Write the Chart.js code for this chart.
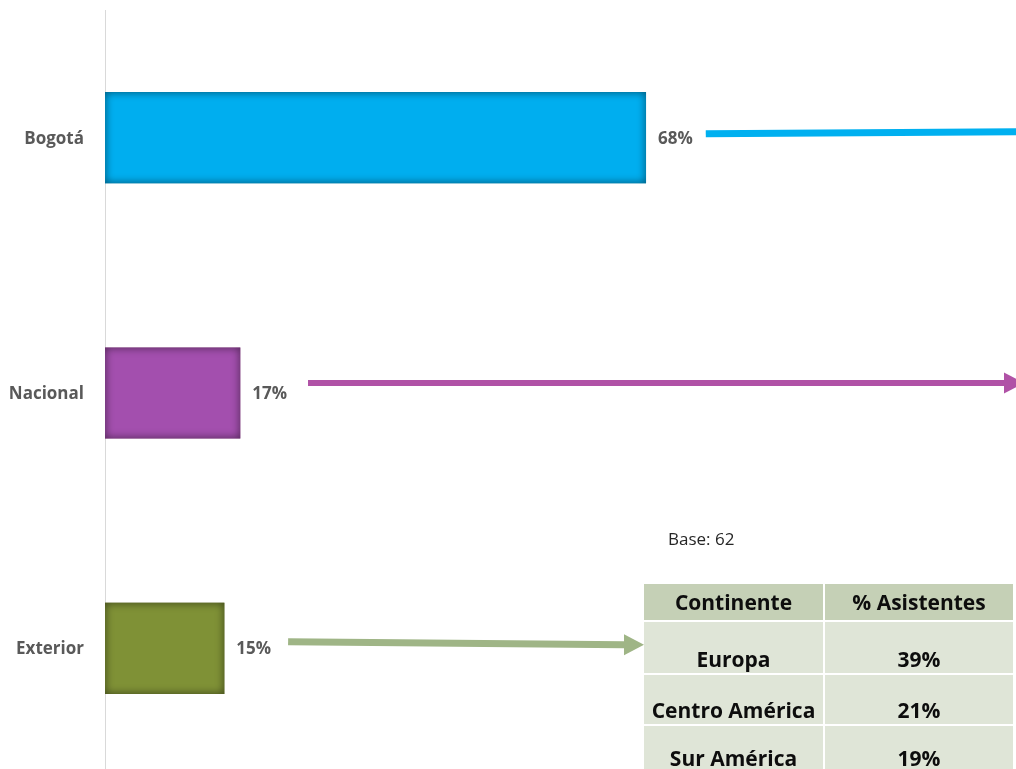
<!DOCTYPE html>
<html>
<head>
<meta charset="utf-8">
<script src="https://cdn.jsdelivr.net/npm/chart.js@4.4.0/dist/chart.umd.min.js"></script>
<style>
  html, body { margin: 0; padding: 0; background: #fff; overflow: hidden; }
  #wrap { position: relative; width: 1016px; height: 769px; }
  #chart { position: absolute; left: 0; top: 0; }
  #base { position: absolute; left: 668px; top: 527px; font: 17px "Open Sans"; color: #262626; }
  #continents { position: absolute; left: 642px; top: 582px; border-collapse: separate; border-spacing: 2px;
    font-family: "Open Sans"; font-weight: 700; font-size: 21px; color: #0d0d0d; }
  #continents td { padding: 0; text-align: center; line-height: 27px; }
  #continents tr.head td { background: #c5d0b6; height: 36px; vertical-align: middle; }
  #continents tr.row td { background: #dfe5d7; vertical-align: bottom; }
</style>
</head>
<body>
<div id="wrap">
  <canvas id="chart" width="1016" height="776"></canvas>
  <div id="base"></div>
  <table id="continents"></table>
</div>
<script>
// main bars
const categories = ['Bogotá', 'Nacional', 'Exterior'];
const values = [68, 17, 15];
const barColors = ['#00aeef', '#a34fae', '#7f9136'];
const edgeColors = ['#0a6f8f', '#6e2a66', '#4f5c20'];

// side table
const tableHeaders = ['Continente', '% Asistentes'];
const continents = ['Europa', 'Centro América', 'Sur América'];
const continentShares = [39, 21, 19];
const baseCount = 62;

// arrows leaving the value labels
const arrowColors = ['#00b0f0', '#b052a6', '#9fb586'];

document.getElementById('base').textContent = 'Base: ' + baseCount;

const table = document.getElementById('continents');
const colWidths = [179, 188];
const rowHeights = [51, 49, 46];
let html = '<tr class="head">' + tableHeaders.map((h, i) => `<td style="width:${colWidths[i]}px">${h}</td>`).join('') + '</tr>';
continents.forEach((c, i) => {
    html += `<tr class="row"><td style="height:${rowHeights[i]}px">${c}</td><td>${continentShares[i]}%</td></tr>`;
});
table.innerHTML = html;

const labelFont = 'bold 17px "Open Sans"';
const labelGap = 12;

// darkened inner edge, like the office bevel
const innerShadow = {
    id: 'innerShadow',
    afterDatasetsDraw(chart) {
        const ctx = chart.ctx;
        chart.getDatasetMeta(0).data.forEach((bar, i) => {
            const { x, y, base, height } = bar.getProps(['x', 'y', 'base', 'height'], true);
            const left = Math.min(base, x), w = Math.abs(x - base), top = y - height / 2;
            ctx.save();
            ctx.beginPath();
            ctx.rect(left, top, w, height);
            ctx.clip();
            ctx.shadowColor = 'rgba(0,0,0,0.6)';
            ctx.shadowBlur = 8;
            ctx.lineWidth = 6;
            ctx.strokeStyle = edgeColors[i];
            ctx.strokeRect(left - 3, top - 3, w + 6, height + 6);
            ctx.restore();
        });
    }
};

// category names left of the axis (drawn here so the tick padding
// does not push the plot area down)
const categoryLabels = {
    id: 'categoryLabels',
    afterDraw(chart) {
        const ctx = chart.ctx;
        const y = chart.scales.y;
        ctx.save();
        ctx.font = labelFont;
        ctx.fillStyle = '#595959';
        ctx.textAlign = 'right';
        ctx.textBaseline = 'middle';
        categories.forEach((c, i) => {
            ctx.fillText(c, y.right - 21, y.getPixelForTick(i) + 1);
        });
        ctx.restore();
    }
};

const valueLabels = {
    id: 'valueLabels',
    afterDatasetsDraw(chart) {
        const ctx = chart.ctx;
        ctx.save();
        ctx.font = labelFont;
        ctx.fillStyle = '#595959';
        ctx.textAlign = 'left';
        ctx.textBaseline = 'middle';
        chart.getDatasetMeta(0).data.forEach((bar, i) => {
            ctx.fillText(values[i] + '%', bar.x + labelGap, bar.y + 1);
        });
        ctx.restore();
    }
};

const arrows = {
    id: 'arrows',
    afterDraw(chart) {
        const ctx = chart.ctx;
        const tableLeft = table.offsetLeft + 2;
        // [dy at start, dy at end, end x, head?, line width, gap after label]
        const specs = [
            [-4, -6, chart.width, false, 7, 13],
            [-10, -10, chart.width + 8, true, 6, 21],
            [-6.5, -3.5, tableLeft, true, 7, 17]
        ];
        ctx.save();
        ctx.font = labelFont;
        chart.getDatasetMeta(0).data.forEach((bar, i) => {
            const [dy0, dy1, xEnd, head, lw, gap] = specs[i];
            const x0 = bar.x + labelGap + ctx.measureText(values[i] + '%').width + gap;
            const y0 = bar.y + dy0, y1 = bar.y + dy1;
            const hl = head ? 20 : 0;
            ctx.strokeStyle = arrowColors[i];
            ctx.fillStyle = arrowColors[i];
            ctx.lineWidth = lw;
            ctx.beginPath();
            ctx.moveTo(x0, y0);
            ctx.lineTo(xEnd - hl, y1);
            ctx.stroke();
            if (head) {
                ctx.beginPath();
                ctx.moveTo(xEnd - hl, y1 - 10.5);
                ctx.lineTo(xEnd, y1);
                ctx.lineTo(xEnd - hl, y1 + 10.5);
                ctx.closePath();
                ctx.fill();
            }
        });
        ctx.restore();
    }
};

new Chart(document.getElementById('chart'), {
    type: 'bar',
    data: {
        labels: categories,
        datasets: [{
            data: values,
            backgroundColor: barColors,
            borderWidth: 0,
            categoryPercentage: 1,
            barPercentage: 0.357
        }]
    },
    options: {
        indexAxis: 'y',
        responsive: false,
        animation: false,
        layout: { padding: { top: 10, right: 0, bottom: 0, left: 0 } },
        plugins: { legend: { display: false }, tooltip: { enabled: false } },
        scales: {
            x: { display: false, min: 0, max: 114.5 },
            y: {
                afterFit(scale) { scale.width = 105; },
                grid: { display: false, drawTicks: false },
                border: { display: true, color: '#d9d9d9', width: 1 },
                ticks: { display: false }
            }
        }
    },
    plugins: [innerShadow, categoryLabels, valueLabels, arrows]
});
</script>
</body>
</html>
